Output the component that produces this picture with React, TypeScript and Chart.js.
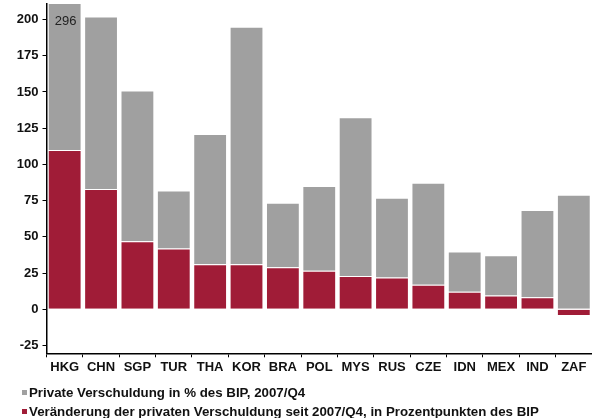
import React, { useEffect, useRef } from "react";
import { Chart, registerables } from "chart.js";

Chart.register(...registerables);

const categories = ["HKG", "CHN", "SGP", "TUR", "THA", "KOR", "BRA", "POL", "MYS", "RUS", "CZE", "IDN", "MEX", "IND", "ZAF"];
// Change since 2007/Q4, percentage points of GDP
const changeValues = [110, 83, 47, 42, 31, 31, 29, 26.5, 23, 22, 17, 12, 9.5, 8.3, -4.6];
// Private debt in % of GDP, 2007/Q4 (stacked on top of the change)
const levelValues = [186, 119, 104, 40, 90, 164, 44.5, 58.5, 109.5, 55, 70.3, 27.8, 27.7, 60.2, 79];
const yTicks = [-25, 0, 25, 50, 75, 100, 125, 150, 175, 200];
const clippedLabel = "296";
const seriesNames = [
  "Private Verschuldung in % des BIP, 2007/Q4",
  "Veränderung der privaten Verschuldung seit 2007/Q4, in Prozentpunkten des BIP",
];

const GRAY = "#a0a0a0";
const RED = "#a01c37";
const seriesColors = [GRAY, RED];
const FONT = "'Liberation Sans', Arial, sans-serif";

export default function App() {
  const ref = useRef<HTMLCanvasElement | null>(null);

  useEffect(() => {
    if (!ref.current) return;
    const labelPlugin = {
      id: "clippedLabel",
      afterDatasetsDraw(chart: any) {
        const { ctx, chartArea, scales } = chart;
        const x = scales.x.getPixelForValue(0) + 1;
        ctx.save();
        ctx.font = `13px ${FONT}`;
        ctx.fillStyle = "#222";
        ctx.textAlign = "center";
        ctx.textBaseline = "middle";
        ctx.fillText(clippedLabel, x, chartArea.top + 17);
        ctx.restore();
      },
    };

    const chart = new Chart(ref.current, {
      type: "bar",
      data: {
        labels: categories,
        datasets: [
          {
            label: seriesNames[1],
            data: changeValues,
            backgroundColor: RED,
            borderColor: "rgba(255,255,255,0.35)",
            borderWidth: 1,
            stack: "s",
          },
          {
            label: seriesNames[0],
            data: levelValues,
            backgroundColor: GRAY,
            borderColor: "rgba(255,255,255,0.35)",
            borderWidth: 1,
            stack: "s",
          },
        ],
      },
      options: {
        animation: false,
        responsive: false,
        maintainAspectRatio: false,
        layout: { padding: { left: 13, right: 0, top: 4, bottom: 34.7 } },
        datasets: { bar: { categoryPercentage: 1, barPercentage: 0.93 } },
        plugins: {
          tooltip: { enabled: false },
          legend: { display: false },
        },
        scales: {
          x: {
            stacked: true,
            afterFit(scale: any) {
              scale.height = 30;
              scale.paddingLeft = 0;
              scale.paddingRight = 0;
            },
            grid: { display: true, drawOnChartArea: false, drawTicks: true, tickLength: 4, color: "#000", offset: true },
            border: { display: true, color: "#000", width: 1.5 },
            ticks: { color: "#111", padding: 2, font: { family: FONT, size: 13, weight: "bold" }, maxRotation: 0, autoSkip: false },
          },
          y: {
            stacked: true,
            min: -30.4,
            max: 210.7,
            afterFit(scale: any) {
              scale.width = 33.5;
              scale.paddingTop = 0;
              scale.paddingBottom = 0;
            },
            afterBuildTicks(scale: any) {
              scale.ticks = yTicks.map((v) => ({ value: v }));
            },
            grid: { display: true, drawOnChartArea: false, drawTicks: true, tickLength: 4, color: "#000" },
            border: { display: true, color: "#000", width: 1.5 },
            ticks: { color: "#111", padding: 4, font: { family: FONT, size: 13, weight: "bold" } },
          },
        },
      },
      plugins: [labelPlugin],
    });
    return () => chart.destroy();
  }, []);

  return (
    <div style={{ position: "fixed", left: 0, top: 0, width: 592, height: 418, background: "#fff" }}>
      <canvas ref={ref} width={592} height={418} style={{ width: 592, height: 418, display: "block" }} />
      <div style={{ position: "absolute", left: 22, top: 382.5, fontFamily: FONT, fontWeight: "bold", fontSize: 13.3, color: "#111" }}>
        {seriesNames.map((name, i) => (
          <div key={name} style={{ display: "flex", alignItems: "center", height: 19, lineHeight: "19px", whiteSpace: "nowrap" }}>
            <span style={{ display: "inline-block", width: 5, height: 5, background: seriesColors[i], marginRight: 2 }} />
            <span>{name}</span>
          </div>
        ))}
      </div>
    </div>
  );
}
